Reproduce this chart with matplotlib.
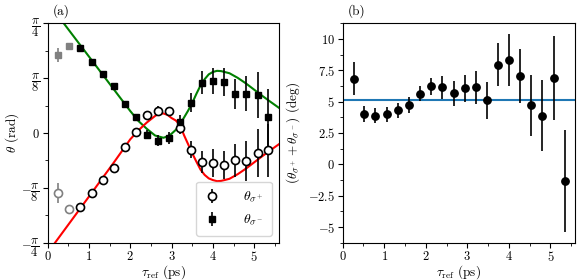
import numpy as np
import matplotlib
matplotlib.use('Agg')
import matplotlib.pyplot as plt
from matplotlib.ticker import MultipleLocator

plt.rcParams['font.family'] = 'serif'
plt.rcParams['font.serif'] = ['cmr10']
plt.rcParams['mathtext.fontset'] = 'cm'
plt.rcParams['axes.formatter.use_mathtext'] = True
plt.rcParams['font.size'] = 9.5
plt.rcParams['xtick.labelsize'] = 9
plt.rcParams['ytick.labelsize'] = 9
plt.rcParams['xtick.major.pad'] = 1.5
plt.rcParams['ytick.major.pad'] = 2

# --- measured points (rad) --- #
tau = [0.26, 0.52, 0.78, 1.07, 1.33, 1.60, 1.87, 2.13, 2.40, 2.67,
       2.94, 3.20, 3.47, 3.74, 4.00, 4.27, 4.53, 4.80, 5.08, 5.34]
theta_plus = [-0.428, -0.547, -0.533, -0.431, -0.338, -0.248, -0.103, 0.005, 0.128, 0.161,
              0.154, 0.036, -0.119, -0.210, -0.214, -0.228, -0.196, -0.202, -0.143, -0.124]
err_plus = [0.073, 0.02, 0.015, 0.015, 0.015, 0.015, 0.015, 0.02, 0.03, 0.03,
            0.03, 0.04, 0.06, 0.078, 0.1, 0.1, 0.119, 0.143, 0.17, 0.19]
theta_minus = [0.559, 0.625, 0.611, 0.509, 0.421, 0.338, 0.209, 0.111, -0.012, -0.055,
               -0.036, 0.079, 0.218, 0.361, 0.371, 0.364, 0.281, 0.281, 0.273, 0.111]
err_minus = [0.048, 0.015, 0.015, 0.015, 0.015, 0.015, 0.015, 0.02, 0.03, 0.04,
             0.045, 0.05, 0.069, 0.083, 0.095, 0.1, 0.107, 0.127, 0.166, 0.207]
n_gray = 2  # first points drawn in grey

# --- model curves (rad) --- #
t_minus_fit = [0.39, 1.0, 1.6, 2.0, 2.2, 2.4, 2.6, 2.8, 2.9, 3.0, 3.1, 3.2, 3.3, 3.4, 3.5,
               3.6, 3.7, 3.8, 3.9, 4.0, 4.1, 4.2, 4.4, 4.6, 4.8, 5.0, 5.2, 5.4, 5.6]
minus_fit = [0.785, 0.547, 0.313, 0.157, 0.085, 0.030, -0.018, -0.034, -0.025, -0.005, 0.022,
             0.060, 0.110, 0.160, 0.215, 0.280, 0.340, 0.385, 0.420, 0.437, 0.445, 0.443,
             0.428, 0.395, 0.355, 0.310, 0.265, 0.222, 0.180]
t_plus_fit = [0.18, 1.0, 1.6, 2.0, 2.2, 2.4, 2.6, 2.7, 2.8, 2.9, 3.0, 3.1, 3.2, 3.3, 3.4, 3.5,
              3.6, 3.7, 3.8, 3.9, 4.0, 4.1, 4.2, 4.4, 4.6, 4.8, 5.0, 5.2, 5.4, 5.6]
plus_fit = [-0.785, -0.455, -0.212, -0.045, 0.020, 0.075, 0.122, 0.138, 0.140, 0.130, 0.107,
            0.090, 0.060, -0.015, -0.080, -0.145, -0.205, -0.262, -0.300, -0.325, -0.337,
            -0.345, -0.343, -0.328, -0.295, -0.255, -0.210, -0.165, -0.122, -0.080]

# --- sum (deg) --- #
sum_deg = [6.83, 3.99, 3.86, 3.99, 4.31, 4.73, 5.63, 6.21, 6.13, 5.66,
           6.06, 6.13, 5.10, 7.96, 8.33, 7.01, 4.71, 3.89, 6.90, -1.33]
sum_err = [1.3, 0.65, 0.6, 0.6, 0.6, 0.65, 0.6, 0.7, 0.95, 1.0,
           1.1, 1.3, 1.5, 1.7, 2.05, 2.15, 2.45, 2.8, 3.35, 4.05]
sum_mean = 5.1

fig = plt.figure(figsize=(5.8, 2.8), dpi=100)
ax = fig.add_axes([0.0822, 0.1332, 0.3988, 0.7836])
bx = fig.add_axes([0.5909, 0.1332, 0.4010, 0.7836])

# --- panel (a) --- #
ax.plot(t_minus_fit, minus_fit, color='green', lw=1.5, zorder=1)
ax.plot(t_plus_fit, plus_fit, color='red', lw=1.5, zorder=1)

gray = '#808080'
ax.errorbar(tau[:n_gray], theta_plus[:n_gray], yerr=err_plus[:n_gray], fmt='o', ms=5.8,
            mfc='white', mec=gray, mew=1.2, ecolor=gray, elinewidth=1.2, zorder=3)
ax.errorbar(tau[:n_gray], theta_minus[:n_gray], yerr=err_minus[:n_gray], fmt='s', ms=5,
            mfc=gray, mec=gray, ecolor=gray, elinewidth=1.2, zorder=3)
ax.errorbar(tau[n_gray:], theta_plus[n_gray:], yerr=err_plus[n_gray:], fmt='o', ms=5.8,
            mfc='white', mec='black', mew=1.2, ecolor='black', elinewidth=1.2, zorder=3,
            label=r'$\theta_{\sigma^+}$')
ax.errorbar(tau[n_gray:], theta_minus[n_gray:], yerr=err_minus[n_gray:], fmt='s', ms=5,
            mfc='black', mec='black', ecolor='black', elinewidth=1.2, zorder=3,
            label=r'$\theta_{\sigma^-}$')

ax.set_xlim(0, 5.6)
ax.set_ylim(-np.pi / 4, np.pi / 4)
ax.set_yticks([-np.pi / 4, -np.pi / 8, 0, np.pi / 8, np.pi / 4])
ax.set_yticklabels([r'$-\dfrac{\pi}{4}$', r'$-\dfrac{\pi}{8}$', r'$0$',
                    r'$\dfrac{\pi}{8}$', r'$\dfrac{\pi}{4}$'])
ax.yaxis.set_minor_locator(MultipleLocator(np.pi / 16))
ax.xaxis.set_major_locator(MultipleLocator(1))
ax.xaxis.set_minor_locator(MultipleLocator(0.5))
ax.set_xlabel(r'$\tau_\mathrm{ref}$ (ps)', labelpad=0)
ax.set_ylabel(r'$\theta$ (rad)', labelpad=0)
ax.legend(loc='lower right', fontsize=10, handlelength=1.2, handletextpad=1.6,
          borderpad=0.6, labelspacing=0.6)
ax.text(0.02, 1.025, '(a)', transform=ax.transAxes, va='bottom')

# --- panel (b) --- #
bx.axhline(sum_mean, color='#1f77b4', lw=1.5, zorder=1)
bx.errorbar(tau, sum_deg, yerr=sum_err, fmt='o', ms=5.3, mfc='black', mec='black',
            ecolor='black', elinewidth=1.2, zorder=3)
bx.set_xlim(0, 5.6)
bx.set_ylim(-6.25, 11.25)
bx.yaxis.set_minor_locator(MultipleLocator(1.25))
bx.xaxis.set_major_locator(MultipleLocator(1))
bx.xaxis.set_minor_locator(MultipleLocator(0.5))
bx.set_yticks([-5, -2.5, 0, 2.5, 5, 7.5, 10])
bx.set_yticklabels(['$-5$', '$-2.5$', '$0$', '$2.5$', '$5$', '$7.5$', '$10$'])
bx.set_xlabel(r'$\tau_\mathrm{ref}$ (ps)', labelpad=0)
bx.set_ylabel(r'$(\theta_{\sigma^+}+\theta_{\sigma^-})$ (deg)', labelpad=4)
bx.text(0.02, 1.025, '(b)', transform=bx.transAxes, va='bottom')

fig.savefig('out.png', dpi=100)
